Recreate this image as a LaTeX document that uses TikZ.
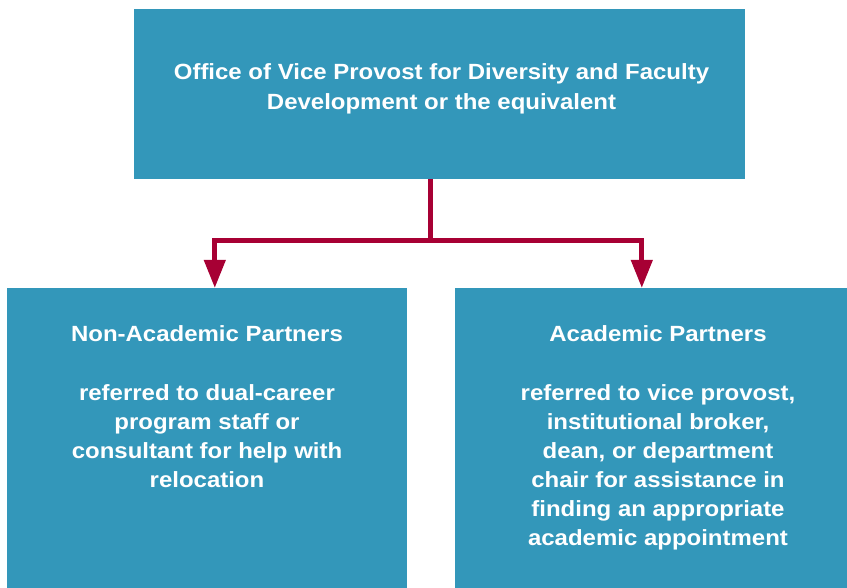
\documentclass[tikz,border=0pt]{standalone}
\usepackage{fontspec}
\setmainfont{Liberation Sans}[FakeStretch=1.09]
\usetikzlibrary{arrows.meta,calc}
\definecolor{boxblue}{RGB}{51,151,186}
\definecolor{crimson}{RGB}{167,0,52}
\begin{document}
\begin{tikzpicture}[x=1pt,y=-1pt,
  box/.style={fill=boxblue, draw=none, inner sep=0pt, outer sep=0pt},
  txt/.style={text=white, font=\bfseries\fontsize{22}{29.1}\selectfont, inner sep=0pt, anchor=base},
  conn/.style={draw=crimson, line width=5pt},
  arr/.style={conn, -{Triangle[width=20.7pt,length=28pt]}}]
\useasboundingbox (0,0) rectangle (847,588);
\node[box, minimum width=611pt, minimum height=170pt] (top) at (439.5,94) {};
\node[box, minimum width=400pt, minimum height=300pt] (left) at (207,438) {};
\node[box, minimum width=392pt, minimum height=300pt] (right) at (651,438) {};
\node[txt] (toptxt) at (441.5,80) {\begin{tabular}[t]{@{}c@{}}Office of Vice Provost for Diversity and Faculty\\Development or the equivalent\end{tabular}};
\node[txt] (lefttxt) at (207,342) {\begin{tabular}[t]{@{}c@{}}Non-Academic Partners\\ \\referred to dual-career\\program staff or\\consultant for help with\\relocation\end{tabular}};
\node[txt] (righttxt) at (658,342) {\begin{tabular}[t]{@{}c@{}}Academic Partners\\ \\referred to vice provost,\\institutional broker,\\dean, or department\\chair for assistance in\\finding an appropriate\\academic appointment\end{tabular}};
\coordinate (junc) at ($(top.south)+(-8.7,61.8)$);
\draw[conn] ([xshift=-8.7pt]top.south) -- (junc);
\draw[arr] (junc) -| ([xshift=7.8pt]left.north);
\draw[arr] (junc) -| ([xshift=-9.2pt]right.north);
\end{tikzpicture}
\end{document}
